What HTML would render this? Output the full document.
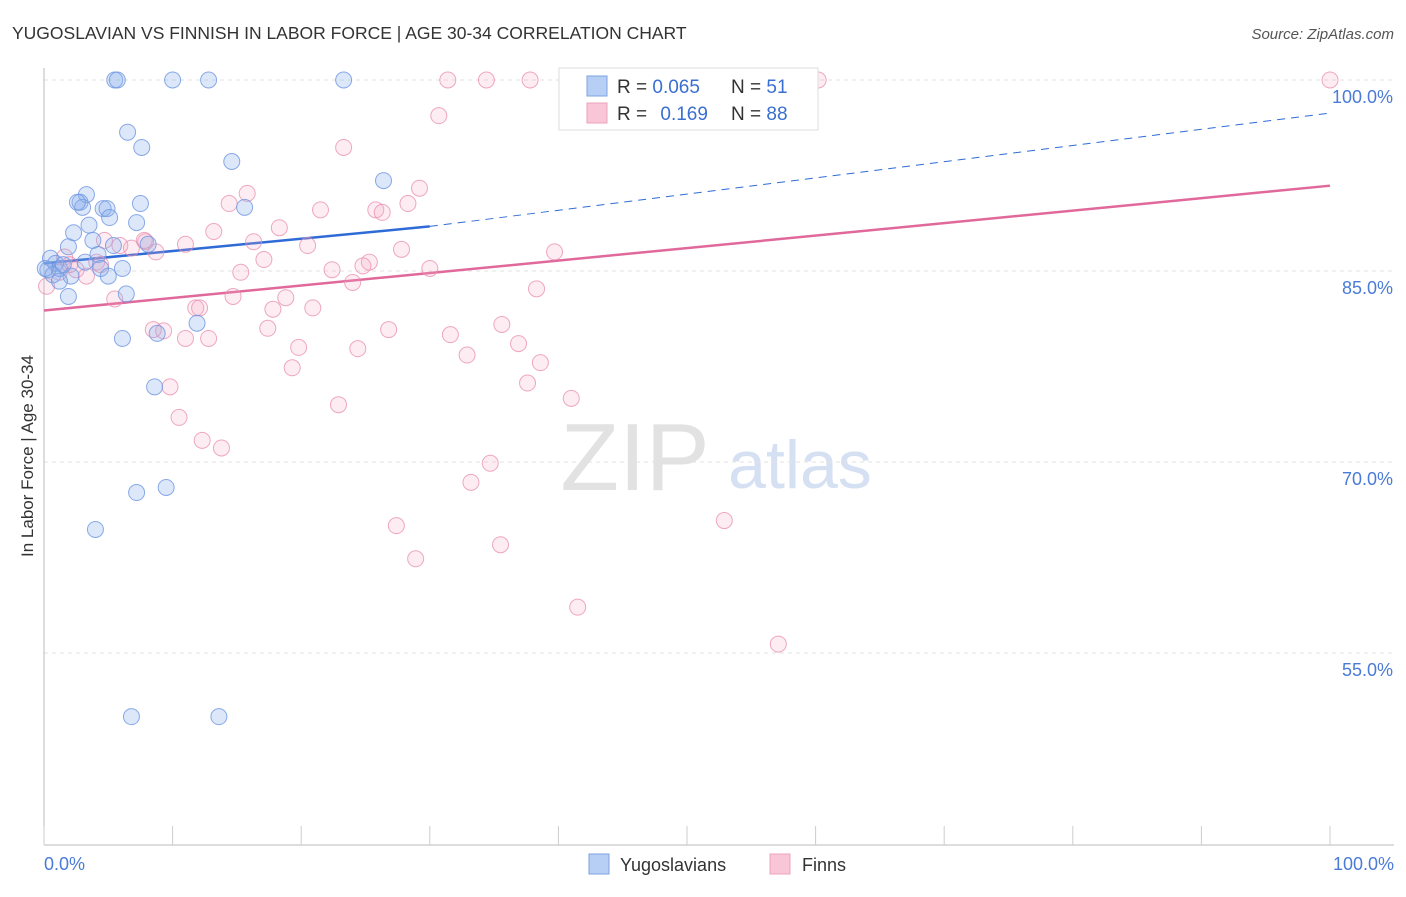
<!DOCTYPE html>
<html><head><meta charset="utf-8"><style>
body{margin:0;background:#fff;font-family:"Liberation Sans",sans-serif;}
svg text{font-family:"Liberation Sans",sans-serif;}
</style></head><body>
<svg id="chart" width="1406" height="892" xmlns="http://www.w3.org/2000/svg">
<text x="12" y="39" font-size="17.5" fill="#333">YUGOSLAVIAN VS FINNISH IN LABOR FORCE | AGE 30-34 CORRELATION CHART</text>
<text x="1394" y="39" font-size="15" fill="#555" font-style="italic" text-anchor="end">Source: ZipAtlas.com</text>
<text x="33" y="456" font-size="17" fill="#333" text-anchor="middle" transform="rotate(-90 33 456)">In Labor Force | Age 30-34</text>
<g>
<text x="635" y="490" font-size="96" fill="#e2e2e2" font-family="Liberation Serif" text-anchor="middle">ZIP</text>
<text x="800" y="488" font-size="68" fill="#d5e0f2" text-anchor="middle">atlas</text>
</g>
<g id="grid"></g>
<g id="axes"></g>
<g id="trend"></g>
<g id="points"></g>
<g>
<rect x="559" y="68" width="259" height="62" fill="#fff" stroke="#ddd"/>
<rect x="587" y="76" width="20" height="20" fill="#b7cff5" stroke="#7ea3e0"/>
<text x="617" y="93" font-size="19" fill="#333">R = <tspan fill="#3a6fd0">0.065</tspan></text>
<text x="731" y="93" font-size="19" fill="#333">N = <tspan fill="#3a6fd0">51</tspan></text>
<rect x="587" y="103" width="20" height="20" fill="#f8c6d6" stroke="#eea0bb"/>
<text x="617" y="120" font-size="19" fill="#333">R =  <tspan fill="#3a6fd0" dx="8">0.169</tspan></text>
<text x="731" y="120" font-size="19" fill="#333">N = <tspan fill="#3a6fd0">88</tspan></text>
</g>
<g>
<rect x="589" y="854" width="20" height="20" fill="#b7cff5" stroke="#7ea3e0"/>
<text x="620" y="871" font-size="18" fill="#333">Yugoslavians</text>
<rect x="770" y="854" width="20" height="20" fill="#f8c6d6" stroke="#eea0bb"/>
<text x="802" y="871" font-size="18" fill="#333">Finns</text>
</g>
</svg>
<script>
const blueX=[5.5,5.7,10.0,12.8,23.3,6.5,7.6,14.6,26.4,3.3,2.8,3.0,2.6,4.6,4.9,7.5,5.1,7.2,15.6,3.5,2.3,3.8,1.9,5.4,8.1,4.2,0.5,0.9,1.2,0.3,4.4,6.1,0.7,2.1,5.0,1.2,6.4,1.9,11.9,8.8,6.1,8.6,9.5,7.2,4.0,6.8,13.6,0.1,1.5,3.2];
const blueY=[100,100,100,100,100,95.9,94.7,93.6,92.1,91.0,90.4,90.0,90.4,89.9,89.9,90.3,89.2,88.8,90.0,88.6,88.0,87.4,86.9,87.0,87.1,86.3,86.0,85.6,85.2,85.1,85.2,85.2,84.7,84.6,84.6,84.2,83.2,83.0,80.9,80.1,79.7,75.9,68.0,67.6,64.7,50.0,50.0,85.2,85.5,85.7];
const pinkX=[31.4,34.4,37.8,60.2,100,55.8,30.7,23.3,29.2,15.8,14.4,28.3,21.5,25.8,26.3,13.2,18.3,16.3,20.5,27.8,39.7,11.0,8.7,7.9,6.8,5.9,4.7,4.1,17.1,25.3,24.8,22.4,30.0,15.3,2.5,3.3,1.6,1.2,0.2,24.0,38.3,14.7,5.5,18.8,20.9,11.8,12.1,17.8,17.4,26.8,31.6,35.6,8.5,9.3,11.0,12.8,19.8,24.4,36.9,32.9,38.6,19.3,9.8,37.6,41.0,22.9,10.5,12.3,13.8,34.7,33.2,27.4,52.9,35.5,28.9,41.5,57.1,7.8,4.4,2.0];
const pinkY=[100,100,100,100,100,100,97.2,94.7,91.5,91.1,90.3,90.3,89.8,89.8,89.6,88.1,88.4,87.3,87.0,86.7,86.5,87.1,86.5,87.3,86.8,87.0,87.4,85.7,85.9,85.7,85.4,85.1,85.2,84.9,85.1,84.6,86.1,84.9,83.8,84.1,83.6,83.0,82.8,82.9,82.1,82.1,82.1,82.0,80.5,80.4,80.0,80.8,80.4,80.3,79.7,79.7,79.0,78.9,79.3,78.4,77.8,77.4,75.9,76.2,75.0,74.5,73.5,71.7,71.1,69.9,68.4,65.0,65.4,63.5,62.4,58.6,55.7,87.4,85.5,85.5];
const yTicks=[100,85,70,55];
const yTickLabels=["100.0%","85.0%","70.0%","55.0%"];
const xTicks=[0,10,20,30,40,50,60,70,80,90,100];
const blueTrend=[85.6,88.5,97.4];
const pinkTrend=[81.9,91.7];
const NS="http://www.w3.org/2000/svg";
const sx=v=>44+v*12.86;
const sy=v=>80+(100-v)*12.733;
function mk(tag,attrs,parent){const e=document.createElementNS(NS,tag);for(const k in attrs)e.setAttribute(k,attrs[k]);parent.appendChild(e);return e;}
const grid=document.getElementById('grid'),axes=document.getElementById('axes'),trend=document.getElementById('trend'),pts=document.getElementById('points');
yTicks.forEach((t,i)=>{
 const l=mk('line',{x1:44,x2:1394,y1:sy(t),y2:sy(t),stroke:'#e2e2e2','stroke-dasharray':'4,4'},grid);
 
 
 const tx=mk('text',{x:1393,y:sy(t)+23,'font-size':18,fill:'#4a7bd6','text-anchor':'end'},grid);
 tx.textContent=yTickLabels[i];
 
 
});
const ya=mk('line',{x1:44,x2:44,y1:68,y2:845,stroke:'#bbb'},axes);


const xa=mk('line',{x1:44,x2:1394,y1:845,y2:845,stroke:'#bbb'},axes);


xTicks.forEach(t=>{
 const l=mk('line',{x1:sx(t),x2:sx(t),y1:826,y2:845,stroke:'#ccc'},axes);
 
 
});
const xl0=mk('text',{x:44,y:870,'font-size':18,fill:'#4a7bd6'},axes);xl0.textContent='0.0%';


const xl1=mk('text',{x:1394,y:870,'font-size':18,fill:'#4a7bd6','text-anchor':'end'},axes);xl1.textContent='100.0%';


function dots(X,Y,fill,stroke,name){X.forEach((x,i)=>{
 const c=mk('circle',{cx:sx(x),cy:sy(Y[i]),r:8,fill:fill,stroke:stroke,'stroke-width':1},pts);
 
 
});}
dots(pinkX,pinkY,'rgba(245,170,195,0.22)','rgba(232,140,175,0.75)','point-finns');
dots(blueX,blueY,'rgba(140,175,235,0.3)','rgba(110,150,225,0.8)','point-yugoslavians');
const t1=mk('line',{x1:sx(0),y1:sy(blueTrend[0]),x2:sx(30),y2:sy(blueTrend[1]),stroke:'#2f6bd6','stroke-width':2.5},trend);


const t2=mk('line',{x1:sx(30),y1:sy(blueTrend[1]),x2:sx(100),y2:sy(blueTrend[2]),stroke:'#2f6bd6','stroke-width':1,'stroke-dasharray':'8,6'},trend);


const t3=mk('line',{x1:sx(0),y1:sy(pinkTrend[0]),x2:sx(100),y2:sy(pinkTrend[1]),stroke:'#e0689a','stroke-width':2.5},trend);


</script>
</body></html>
